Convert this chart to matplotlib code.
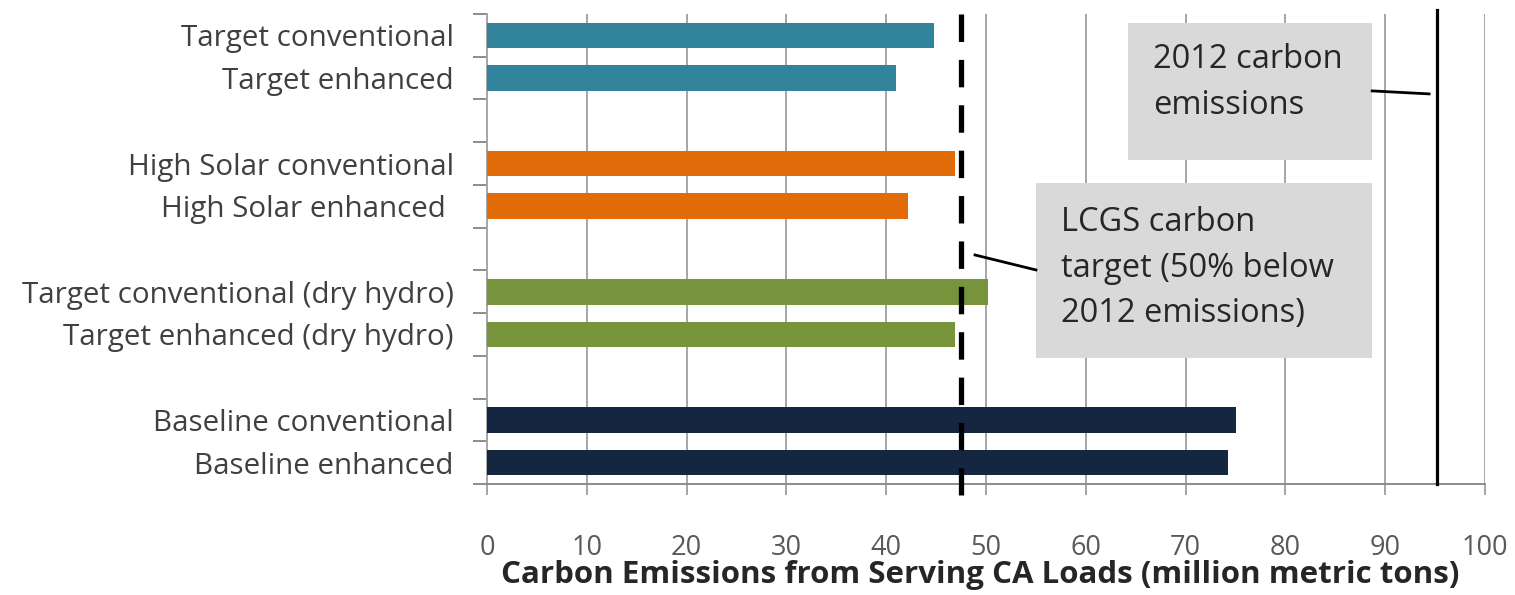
import matplotlib
matplotlib.use("Agg")
import matplotlib.pyplot as plt
from matplotlib.patches import Rectangle
import numpy as np

plt.rcParams['font.family'] = ['Open Sans', 'DejaVu Sans']

# scenario rows, top to bottom (blank rows are spacers between groups)
categories = ["Target conventional", "Target enhanced", "",
              "High Solar conventional", "High Solar enhanced ", "",
              "Target conventional (dry hydro)", "Target enhanced (dry hydro)", "",
              "Baseline conventional", "Baseline enhanced"]
emissions = [44.8, 41.0, None, 46.9, 42.2, None, 50.2, 46.9, None, 75.1, 74.2]
bar_colors = ["#31849B", "#31849B", None, "#E36C0A", "#E36C0A", None,
              "#77933C", "#77933C", None, "#142640", "#142640"]

emissions_2012 = 95.2
lcgs_target = 47.5
xticks = [0, 10, 20, 30, 40, 50, 60, 70, 80, 90, 100]

fig = plt.figure(figsize=(15.15, 5.95), dpi=100)
ax = fig.add_axes([487 / 1515, 1 - 484 / 595, 998 / 1515, 470 / 595])

pos = np.arange(len(categories))
for i, (v, c) in enumerate(zip(emissions, bar_colors)):
    if v is None:
        continue
    ax.barh(pos[i], v, height=0.6, color=c, zorder=3)

ax.set_xlim(0, 100)
ax.set_ylim(len(categories) - 0.5, -0.5)

# grid + x ticks
ax.set_xticks(xticks)
ax.xaxis.grid(True, color="#a6a6a6", lw=1.4, zorder=0)
ax.tick_params(axis='x', length=8, width=1.4, color="#a6a6a6", pad=28,
               labelsize=19.5, labelcolor="#595959")

# y ticks: labels at row centres, tick marks at row boundaries
ax.set_yticks(pos)
ax.set_yticklabels(categories)
ax.set_yticks(np.arange(-0.5, len(categories)), minor=True)
ax.tick_params(axis='y', which='major', length=0, pad=24, labelsize=21.3,
               labelcolor="#404040")
ax.tick_params(axis='y', which='minor', length=10, width=1.4, color="#8c8c8c")

for s in ['top', 'right']:
    ax.spines[s].set_visible(False)
ax.spines['left'].set_color("#a6a6a6")
ax.spines['left'].set_linewidth(1.4)
ax.spines['bottom'].set_color("#8c8c8c")
ax.spines['bottom'].set_linewidth(1.4)

# reference lines
ax.plot([lcgs_target, lcgs_target], [-0.5, 10.75], color="black", lw=3.8,
        linestyle=(0, (5.2, 3.4)), dash_capstyle='butt', zorder=5, clip_on=False)
ax.plot([emissions_2012, emissions_2012], [-0.6, 10.5], color="black", lw=2.3,
        zorder=5, clip_on=False)

# callout boxes
ax.add_patch(Rectangle((64.2, -0.29), 24.5, 3.2, facecolor="#d9d9d9",
                       edgecolor="none", zorder=4))
ax.text(66.7, 1.1, "2012 carbon\nemissions", fontsize=23.5, color="#262626",
        va='center', ha='left', linespacing=1.5, zorder=6)
ax.plot([88.7, 94.4], [1.30, 1.37], color="black", lw=2, zorder=6)

ax.add_patch(Rectangle((55.0, 3.455), 33.7, 4.1, facecolor="#d9d9d9",
                       edgecolor="none", zorder=4))
ax.text(57.5, 5.45, "LCGS carbon\ntarget (50% below\n2012 emissions)",
        fontsize=23.5, color="#262626", va='center', ha='left',
        linespacing=1.5, zorder=6)
ax.plot([48.9, 55.0], [5.14, 5.49], color="black", lw=2, zorder=6)

fig.text(980 / 1515, 1 - 575 / 595,
         "Carbon Emissions from Serving CA Loads (million metric tons)",
         ha='center', va='center', fontsize=22.5, fontweight='bold', color="#262626")

fig.savefig("out.png", dpi=100)
